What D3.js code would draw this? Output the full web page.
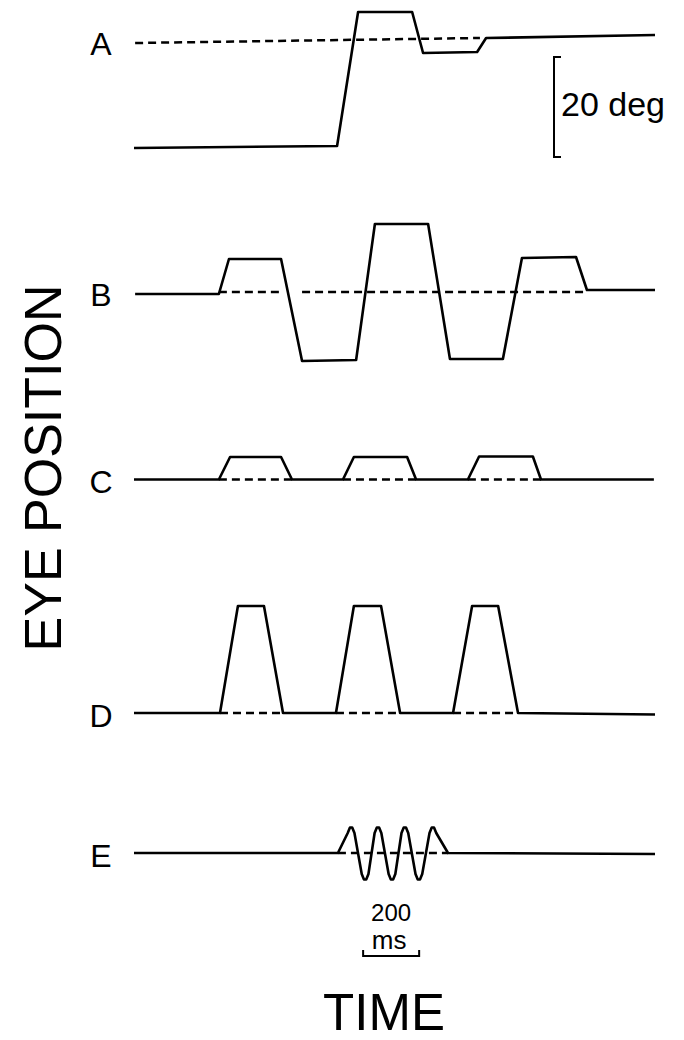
<!DOCTYPE html>
<html>
<head>
<meta charset="utf-8">
<script src="https://cdn.jsdelivr.net/npm/d3@7"></script>
<style>
  html, body { margin: 0; padding: 0; background: #fff; }
  svg { display: block; }
  text { font-family: "Liberation Sans", Arial, Helvetica, sans-serif; fill: #000; }
</style>
</head>
<body>
<svg id="chart" width="684" height="1040"></svg>
<script>
// Eye position traces (degrees) against time (ms) for five stimulus conditions.
const panelLabels = ["A", "B", "C", "D", "E"];

// A: single large step with overshoot and corrective saccade
const eyeA_t   = [0, 725, 800, 993, 1032, 1225, 1257, 1860];
const eyeA_deg = [-21.6, -21.2, 5.6, 5.6, -2.6, -2.4, 0.4, 1.0];
const targetA_t   = [4, 1235];
const targetA_deg = [-0.6, 0.4];

// B: alternating large excursions
const eyeB_t   = [4, 303, 339, 525, 600, 793, 860, 1050, 1128, 1317, 1385, 1578, 1617, 1860];
const eyeB_deg = [-0.4, -0.4, 6.6, 6.6, -13.8, -13.6, 13.6, 13.6, -13.4, -13.4, 6.8, 7.0, 0.4, 0.4];
const targetB_segments = [[303, 535], [600, 1617]];

// C: three small pulses
const eyeC_t   = [0, 303, 343, 525, 564, 746, 785, 975, 1007, 1192, 1232, 1424, 1453, 1856];
const eyeC_deg = [0, 0, 4.5, 4.5, 0, 0, 4.5, 4.5, 0, 0, 4.6, 4.6, 0, 0];
const targetC_segments = [[303, 564], [746, 1007], [1192, 1453]];

// D: three large pulses
const eyeD_t   = [0, 307, 371, 464, 532, 721, 785, 882, 950, 1139, 1207, 1300, 1371, 1860];
const eyeD_deg = [0, 0, 21.4, 21.4, 0, 0, 21.4, 21.4, 0, 0, 21.4, 21.4, 0, -0.3];
const targetD_segments = [[307, 532], [721, 950], [1139, 1371]];

// E: brief oscillation about the target (rounded turning points)
const eyeE_t   = [0, 728,
                  763, 771, 779, 787,
                  813, 821, 829, 837,
                  859, 867, 875, 883,
                  909, 917, 925, 933,
                  955, 963, 971, 979,
                  1005, 1013, 1021, 1029,
                  1055, 1063, 1071, 1079,
                  1121, 1860];
const eyeE_deg = [0, 0,
                  4.0, 5.1, 5.1, 4.0,
                  -4.2, -5.3, -5.3, -4.2,
                  4.0, 5.1, 5.1, 4.0,
                  -4.2, -5.3, -5.3, -4.2,
                  4.0, 5.1, 5.1, 4.0,
                  -4.2, -5.3, -5.3, -4.2,
                  4.0, 5.1, 5.1, 4.0,
                  0, -0.2];
const targetE_segments = [[728, 1121]];

// Scale bars
const degBar = [0, 20];
const msBar = [818, 1018];
const msBarLabel = ["200", "ms"];
const degBarLabel = "20 deg";
const axisTitles = ["EYE POSITION", "TIME"];

// ---- layout ----
const svg = d3.select("#chart");
const panelBaseY = [40, 292, 479.5, 713, 853];
const pxPerDeg = 5;

const x = d3.scaleLinear().domain([0, 1860]).range([134, 655]);
const yFor = (i) => d3.scaleLinear().domain([0, 20]).range([panelBaseY[i], panelBaseY[i] - 20 * pxPerDeg]);

const eyeSeries = [
  [eyeA_t, eyeA_deg], [eyeB_t, eyeB_deg], [eyeC_t, eyeC_deg], [eyeD_t, eyeD_deg], [eyeE_t, eyeE_deg]
];
const targetSeries = [
  [[targetA_t, targetA_deg]],
  targetB_segments.map(s => [s, [0, 0]]),
  targetC_segments.map(s => [s, [0, 0]]),
  targetD_segments.map(s => [s, [0, 0]]),
  targetE_segments.map(s => [s, [0, 0]])
];

panelLabels.forEach((lab, i) => {
  const y = yFor(i);
  const g = svg.append("g").attr("class", "panel-" + lab);
  const line = d3.line().x(d => x(d[0])).y(d => y(d[1]));

  // target (dashed)
  targetSeries[i].forEach(([ts, ds]) => {
    const pts = ts.map((t, k) => [t, ds[k]]);
    g.append("path")
      .attr("d", line(pts))
      .attr("fill", "none").attr("stroke", "#000")
      .attr("stroke-width", 2.5).attr("stroke-dasharray", "8,5");
  });

  // eye trace (solid)
  const [ts, ds] = eyeSeries[i];
  const pts = ts.map((t, k) => [t, ds[k]]);
  g.append("path")
    .attr("d", line(pts))
    .attr("fill", "none").attr("stroke", "#000")
    .attr("stroke-width", 2.6).attr("stroke-linejoin", "round");

  // panel letter
  g.append("text")
    .attr("x", 101).attr("y", panelBaseY[i] + (i === 0 ? 3 : 2) + 11.5)
    .attr("text-anchor", "middle")
    .attr("font-size", 32)
    .text(lab);
});

// vertical scale bar: 20 deg
const yBar = d3.scaleLinear().domain(degBar).range([157, 57]);
svg.append("path")
  .attr("d", `M561,${yBar(20)} H554 V${yBar(0)} H561`)
  .attr("fill", "none").attr("stroke", "#000").attr("stroke-width", 2);
svg.append("text")
  .attr("x", 561).attr("y", 116)
  .attr("font-size", 34)
  .text(degBarLabel);

// horizontal scale bar: 200 ms
svg.append("path")
  .attr("d", `M${x(msBar[0])},950 V956 H${x(msBar[1])} V950`)
  .attr("fill", "none").attr("stroke", "#000").attr("stroke-width", 2);
const msMid = (x(msBar[0]) + x(msBar[1])) / 2;
svg.append("text")
  .attr("x", msMid).attr("y", 920.5)
  .attr("text-anchor", "middle")
  .attr("font-size", 24).text(msBarLabel[0]);
svg.append("text")
  .attr("x", msMid - 2).attr("y", 949)
  .attr("text-anchor", "middle")
  .attr("font-size", 26).text(msBarLabel[1]);

// axis titles
svg.append("text")
  .attr("transform", "translate(61,468) rotate(-90)")
  .attr("text-anchor", "middle")
  .attr("font-size", 52)
  .text(axisTitles[0]);
svg.append("text")
  .attr("x", 384).attr("y", 1030)
  .attr("text-anchor", "middle")
  .attr("font-size", 51)
  .text(axisTitles[1]);
</script>
</body>
</html>
